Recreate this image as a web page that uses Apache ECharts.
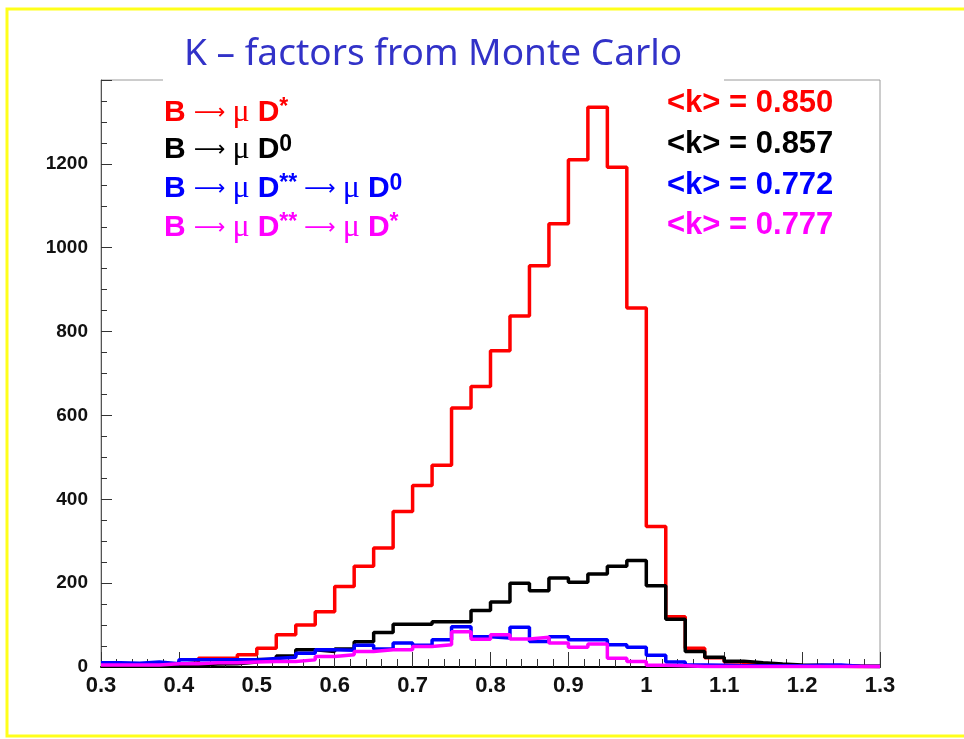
<!DOCTYPE html>
<html>
<head>
<meta charset="utf-8">
<script src="https://cdn.jsdelivr.net/npm/echarts@6/dist/echarts.min.js"></script>
<style>
  html, body { margin: 0; padding: 0; background: #ffffff; }
  #chart { width: 964px; height: 739px; }
</style>
</head>
<body>
<div id="chart"></div>
<script>
// Histogram binning: 40 bins of width 0.025 between k = 0.3 and k = 1.3
const binStart = 0.3;
const binWidth = 0.025;

// Entries per bin for each decay channel
const countsDstar = [3, 3, 4, 6, 10, 21, 21, 29, 45, 77, 100, 132, 192, 240, 284, 371, 433, 481, 618, 669,
  754, 837, 957, 1057, 1210, 1335, 1192, 856, 335, 120, 45, 22, 12, 7, 4, 3, 2, 2, 1, 1];
const countsD0 = [2, 2, 2, 3, 5, 7, 8, 12, 18, 26, 41, 37, 43, 60, 82, 102, 102, 108, 108, 135,
  155, 200, 182, 212, 202, 222, 240, 254, 194, 114, 37, 23, 14, 10, 7, 5, 4, 3, 2, 2];
const countsDssD0 = [10, 9, 12, 8, 17, 17, 17, 17, 20, 23, 33, 41, 40, 52, 43, 57, 52, 65, 96, 72,
  69, 95, 61, 72, 65, 65, 53, 47, 28, 12, 5, 4, 3, 3, 3, 3, 4, 5, 2, 1];
const countsDssDstar = [5, 5, 5, 8, 8, 10, 10, 12, 13, 13, 17, 25, 29, 37, 41, 41, 49, 53, 84, 66,
  77, 67, 71, 57, 47, 55, 21, 13, 4, 3, 1, 1, 1, 1, 1, 1, 1, 1, 1, 1];

// Channel colours and mean k values
const channelColors = ['#ff0000', '#000000', '#0000ff', '#ff00ff'];
const meanK = ['0.850', '0.857', '0.772', '0.777'];
const titleText = 'K \u2013 factors from Monte Carlo';

// Axis ranges and tick steps
const xMin = 0.3, xMax = 1.3, xStep = 0.1;
const yMin = 0, yMax = 1400, yStep = 200;

// Left edges of every bin plus the closing edge, paired with bin contents
function histPoints(counts) {
  const pts = counts.map((c, i) => [+(binStart + i * binWidth).toFixed(4), c]);
  pts.push([+(binStart + counts.length * binWidth).toFixed(4), counts[counts.length - 1]]);
  return pts;
}

function legendRich(color) {
  return {
    b: { fontFamily: 'Liberation Sans', fontWeight: 'bold', fontSize: 30, color: color, lineHeight: 34 },
    a: { fontFamily: 'DejaVu Sans', fontWeight: 'normal', fontSize: 22, color: color, lineHeight: 34 },
    m: { fontFamily: 'Liberation Serif', fontWeight: 'normal', fontSize: 32, color: color, lineHeight: 34 },
    sup: { fontFamily: 'Liberation Sans', fontWeight: 'bold', fontSize: 23, color: color, lineHeight: 30, verticalAlign: 'top' }
  };
}

const legendLines = [
  '{b|B }{a|\u27f6 }{m|\u03bc }{b|D}{sup|*}',
  '{b|B }{a|\u27f6 }{m|\u03bc }{b|D}{sup|0}',
  '{b|B }{a|\u27f6 }{m|\u03bc }{b|D}{sup|**}{a| \u27f6 }{m|\u03bc }{b|D}{sup|0}',
  '{b|B }{a|\u27f6 }{m|\u03bc }{b|D}{sup|**}{a| \u27f6 }{m|\u03bc }{b|D}{sup|*}'
];
const legendTops = [96, 133, 172, 211];
const meanTops = [88, 129, 170, 210];

const chart = echarts.init(document.getElementById('chart'), null, { renderer: 'canvas' });

const titles = [];
legendLines.forEach((txt, i) => {
  titles.push({
    text: txt, left: 164, top: legendTops[i], padding: 0,
    textStyle: { rich: legendRich(channelColors[i]) }
  });
});
meanK.forEach((v, i) => {
  titles.push({
    text: '<k> = ' + v, left: 667, top: meanTops[i], padding: 0,
    textStyle: { fontFamily: 'Liberation Sans', fontWeight: 'bold', fontSize: 31, color: channelColors[i] }
  });
});

const seriesData = [countsDstar, countsD0, countsDssD0, countsDssDstar];

chart.setOption({
  backgroundColor: '#ffffff',
  animation: false,
  title: titles,
  grid: {
    left: 101, right: 84, top: 80, bottom: 72,
    show: true, borderColor: '#9a9a9a', borderWidth: 1, backgroundColor: 'transparent'
  },
  xAxis: {
    type: 'value', min: xMin, max: xMax, interval: xStep,
    axisLine: { show: true, onZero: false, lineStyle: { color: '#000', width: 2 } },
    axisTick: { show: true, inside: true, length: 15, lineStyle: { color: '#333', width: 1 } },
    minorTick: { show: true, splitNumber: 5, length: 8, lineStyle: { color: '#333', width: 1 } },
    splitLine: { show: false },
    axisLabel: {
      margin: 8, color: '#111', fontFamily: 'Liberation Sans', fontWeight: 'bold', fontSize: 22,
      formatter: v => String(+v.toFixed(1))
    }
  },
  yAxis: {
    type: 'value', min: yMin, max: yMax, interval: yStep,
    axisLine: { show: true, lineStyle: { color: '#555', width: 1 } },
    axisTick: { show: true, inside: true, length: 11, lineStyle: { color: '#333', width: 1 } },
    minorTick: { show: true, splitNumber: 4, length: 6, lineStyle: { color: '#333', width: 1 } },
    splitLine: { show: false },
    axisLabel: {
      margin: 13, color: '#111', fontFamily: 'Liberation Sans', fontWeight: 'bold', fontSize: 19,
      showMaxLabel: false,
      formatter: v => String(v)
    }
  },
  series: seriesData.map((counts, i) => ({
    type: 'line',
    step: 'end',
    data: histPoints(counts),
    showSymbol: false,
    symbol: 'none',
    z: 2 + i,
    lineStyle: { color: channelColors[i], width: 3.5 },
    silent: true
  })),
  graphic: [
    {
      type: 'rect', z: 100,
      shape: { x: 7, y: 9, width: 1000, height: 727 },
      style: { fill: 'none', stroke: '#ffff1a', lineWidth: 3 }
    },
    {
      type: 'rect', z: 100,
      shape: { x: 163, y: 70, width: 561, height: 16 },
      style: { fill: '#ffffff', stroke: 'none' }
    },
    {
      type: 'text', z: 101, left: 184, top: 36,
      style: {
        text: titleText, fill: '#3232c8',
        font: 'normal 37px "Noto Sans", sans-serif'
      }
    }
  ]
});
</script>
</body>
</html>
